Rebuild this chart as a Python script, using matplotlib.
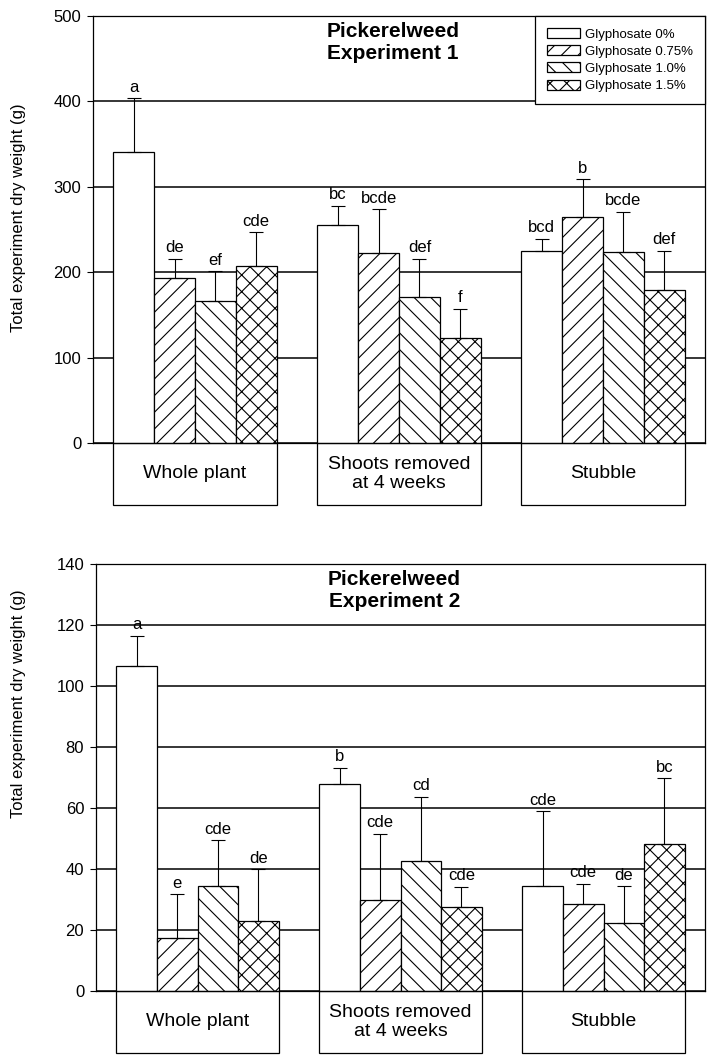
import numpy as np
import matplotlib
matplotlib.use("Agg")
import matplotlib.pyplot as plt
from matplotlib.patches import Rectangle
import matplotlib.transforms as mtransforms

plt.rcParams['font.family'] = ['Liberation Sans', 'DejaVu Sans']
plt.rcParams['hatch.linewidth'] = 0.8

# data
groups = ["Whole plant", "Shoots removed\nat 4 weeks", "Stubble"]
treatments = ["Glyphosate 0%", "Glyphosate 0.75%", "Glyphosate 1.0%", "Glyphosate 1.5%"]
hatches = ["", "//", "\\\\", "xx"]

# Experiment 1 (rows = treatments, cols = groups)
exp1_mean = [[341, 255, 225],
             [193, 222, 265],
             [166, 171, 224],
             [207, 123, 179]]
exp1_err = [[63, 23, 14],
            [23, 52, 44],
            [35, 45, 47],
            [40, 34, 46]]
exp1_letters = [["a", "bc", "bcd"],
                ["de", "bcde", "b"],
                ["ef", "def", "bcde"],
                ["cde", "f", "def"]]

# Experiment 2
exp2_mean = [[106.5, 68.0, 34.5],
             [17.5, 30.0, 28.5],
             [34.5, 42.5, 22.3],
             [23.0, 27.5, 48.3]]
exp2_err = [[10.0, 5.2, 24.5],
            [14.2, 21.5, 6.6],
            [15.0, 21.2, 12.1],
            [17.0, 6.7, 21.4]]
exp2_letters = [["a", "b", "cde"],
                ["e", "cde", "cde"],
                ["cde", "cd", "de"],
                ["de", "cde", "bc"]]

bar_w = 0.2
offsets = [-0.3, -0.1, 0.1, 0.3]


def draw_panel(ax, means, errs, letters, title, ymax, ystep, ylabel_xy, legend=False):
    x = np.arange(len(groups))
    for i, t in enumerate(treatments):
        xi = x + offsets[i]
        ax.bar(xi, means[i], bar_w, color="white", edgecolor="black",
               linewidth=0.9, hatch=hatches[i], label=t, zorder=2)
        ax.errorbar(xi, means[i], yerr=[np.zeros(len(x)), errs[i]], fmt="none",
                    ecolor="black", elinewidth=0.8, capsize=5, capthick=0.8, zorder=3)
        for xx, m, e, lab in zip(xi, means[i], errs[i], letters[i]):
            ax.annotate(lab, (xx, m + e), xytext=(0, 2.5), textcoords="offset points",
                        ha="center", va="bottom", fontsize=12, zorder=4)

    ax.set_xlim(-0.5, len(groups) - 0.5)
    ax.set_ylim(0, ymax)
    ax.set_yticks(np.arange(0, ymax + ystep / 2, ystep))
    ax.set_xticks([])
    ax.tick_params(axis="y", direction="out", length=4.5, width=0.8, labelsize=12, pad=4)
    ax.set_axisbelow(True)
    ax.yaxis.grid(True, color="black", linewidth=1.1)
    for s in ax.spines.values():
        s.set_linewidth(0.9)

    ax.set_ylabel("Total experiment dry weight (g)", fontsize=12)
    ax.yaxis.set_label_coords(*ylabel_xy)

    ax.text(0.49, 0.985, title, transform=ax.transAxes, ha="center", va="top",
            fontsize=15, fontweight="bold", linespacing=1.2)

    # category boxes under the axis
    trans = mtransforms.blended_transform_factory(ax.transData, ax.transAxes)
    for g, name in enumerate(groups):
        ax.add_patch(Rectangle((g - 0.4, -0.145), 0.8, 0.145, transform=trans,
                               facecolor="white", edgecolor="black", linewidth=0.9,
                               clip_on=False))
        ax.text(g, -0.0725, name, transform=trans, ha="center", va="center",
                fontsize=14, linespacing=1.15)

    if legend:
        leg = ax.legend(loc="upper right", fontsize=9.5, frameon=True, fancybox=False,
                        edgecolor="black", framealpha=1, borderaxespad=0,
                        handlelength=2.5, handleheight=0.8, labelspacing=0.35,
                        handletextpad=0.4, borderpad=0.9)
        leg.get_frame().set_linewidth(0.9)
        leg.set_zorder(5)


fig = plt.figure(figsize=(7.12, 10.55), dpi=100)
ax1 = fig.add_axes([93 / 712, 1 - 443 / 1055, 612 / 712, 427 / 1055])
ax2 = fig.add_axes([96 / 712, 1 - 991 / 1055, 609 / 712, 427 / 1055])

draw_panel(ax1, exp1_mean, exp1_err, exp1_letters, "Pickerelweed\nExperiment 1",
           500, 100, (-0.11, 0.527), legend=True)
draw_panel(ax2, exp2_mean, exp2_err, exp2_letters, "Pickerelweed\nExperiment 2",
           140, 20, (-0.115, 0.674))

fig.savefig("out.png", dpi=100)
